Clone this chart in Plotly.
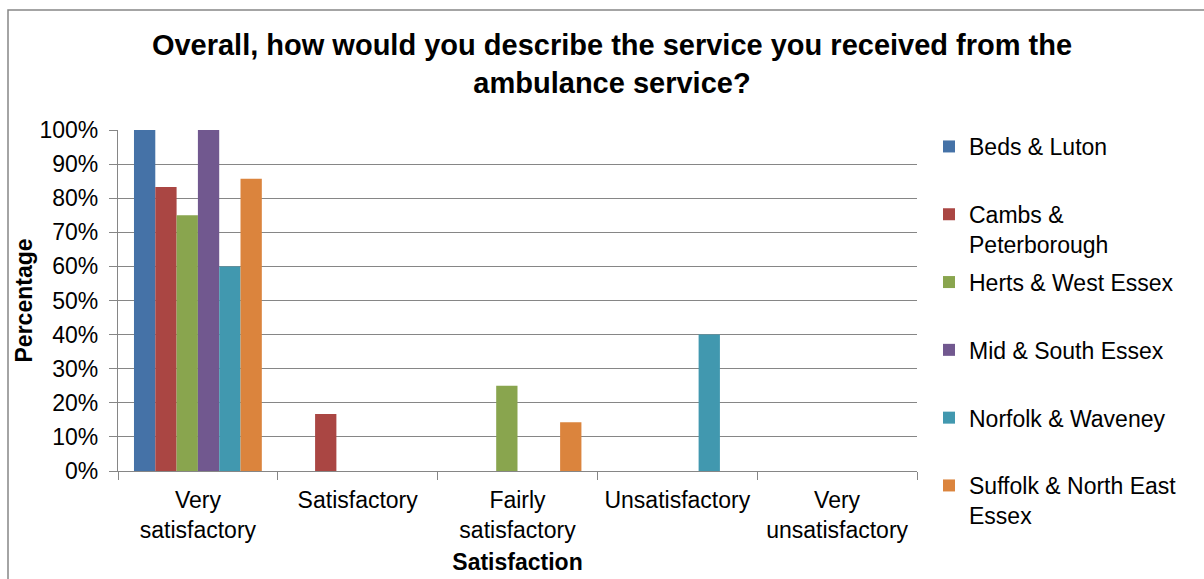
import plotly.graph_objects as go

categories = ["Very<br>satisfactory", "Satisfactory", "Fairly<br>satisfactory",
              "Unsatisfactory", "Very<br>unsatisfactory"]
series_names = ["Beds & Luton", "Cambs &<br>Peterborough", "Herts & West Essex",
                "Mid & South Essex", "Norfolk & Waveney", "Suffolk & North East<br>Essex"]
beds_luton = [100, 0, 0, 0, 0]
cambs_peterborough = [83.3, 16.7, 0, 0, 0]
herts_west_essex = [75, 0, 25, 0, 0]
mid_south_essex = [100, 0, 0, 0, 0]
norfolk_waveney = [60, 0, 0, 40, 0]
suffolk_ne_essex = [85.7, 0, 14.3, 0, 0]
y_tick_vals = [0, 10, 20, 30, 40, 50, 60, 70, 80, 90, 100]
y_tick_text = ["0%", "10%", "20%", "30%", "40%", "50%", "60%", "70%", "80%", "90%", "100%"]

series_values = [beds_luton, cambs_peterborough, herts_west_essex,
                 mid_south_essex, norfolk_waveney, suffolk_ne_essex]
colors = ["#4572A7", "#AA4643", "#89A54E", "#71588F", "#4198AF", "#DB843D"]

FONT = "Liberation Sans, Arial, sans-serif"
FS = 23
W, H = 1204, 579
L, R, T, B = 118, 287, 130, 108
pw, ph = W - L - R, H - T - B

fig = go.Figure()
for name, vals, c in zip(series_names, series_values, colors):
    label = name if "<br>" in name else name + "<br> "
    fig.add_trace(go.Bar(x=categories, y=vals, name=label, marker_color=c,
                         marker_line_width=0, legendgroup=name))

def px2x(px):
    return (px - L) / pw

def py2y(py):
    return (H - B - py) / ph

fig.update_layout(
    width=W, height=H,
    margin=dict(l=L, r=R, t=T, b=B, autoexpand=False),
    paper_bgcolor="white", plot_bgcolor="white",
    font=dict(family=FONT, size=FS, color="black"),
    bargap=0.2, bargroupgap=0,
    title=dict(text="<b>Overall, how would you describe the service you received from the<br>ambulance service?</b>",
               font=dict(family=FONT, size=29, color="black"),
               x=612 / W, xanchor="center", y=1 - 55 / H, yanchor="middle"),
    legend=dict(x=px2x(929), xanchor="left", y=py2y(125), yanchor="top",
                valign="top", traceorder="grouped", tracegroupgap=5,
                maxheight=460,
                font=dict(family=FONT, size=FS, color="black"),
                bgcolor="rgba(0,0,0,0)"),
    showlegend=True,
)

fig.update_xaxes(
    automargin=False,
    showline=True, linecolor="#868686", linewidth=1.3,
    ticks="outside", tickson="boundaries", ticklen=8, tickcolor="#868686", tickwidth=1.3,
    ticklabelstandoff=8,
    showgrid=False, tickfont=dict(family=FONT, size=FS, color="black"),
    title=dict(text="<b>Satisfaction</b>", font=dict(family=FONT, size=FS, color="black"), standoff=12),
)
fig.update_yaxes(
    automargin=False,
    range=[0, 100], tickmode="array", tickvals=y_tick_vals, ticktext=y_tick_text,
    showline=True, linecolor="#868686", linewidth=1.3,
    ticks="outside", ticklen=8, tickcolor="#868686", tickwidth=1.3,
    ticklabelstandoff=6,
    showgrid=True, gridcolor="#868686", gridwidth=1.3,
    tickfont=dict(family=FONT, size=FS, color="black"),
    title=dict(text="<b>Percentage</b>", font=dict(family=FONT, size=FS, color="black"), standoff=0),
    zeroline=False,
)

fig.add_shape(type="rect", xref="paper", yref="paper",
              x0=px2x(8), x1=px2x(1260), y0=py2y(640), y1=py2y(10),
              line=dict(color="#868686", width=1.5), fillcolor="rgba(0,0,0,0)", layer="below")

fig.write_html("out.html")
